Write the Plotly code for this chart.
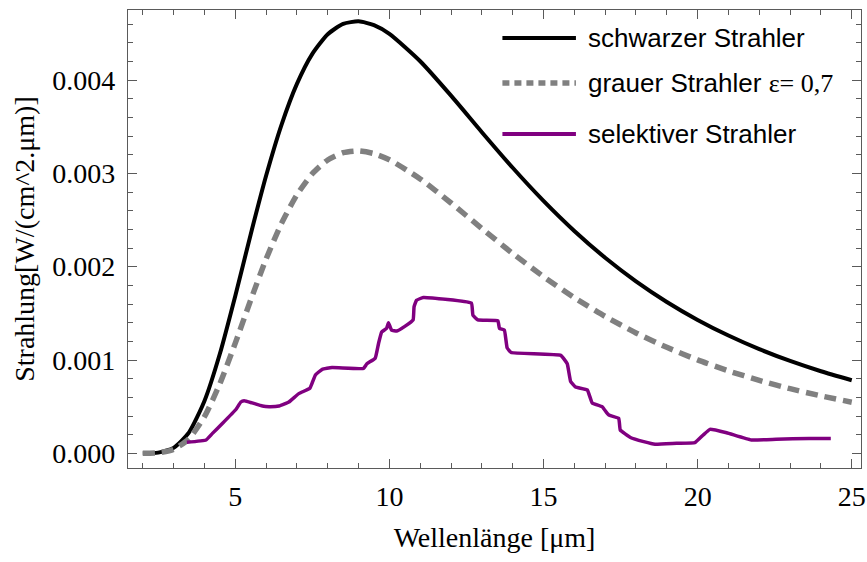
import plotly.graph_objects as go

# Wavelength grid (µm) and spectral exitance (W/(cm^2·µm))
wavelength = [2, 2.5, 3, 3.5, 4, 4.5, 5, 5.5, 6, 6.5, 7, 7.5, 8, 8.5, 9, 9.5, 10,
              11, 12, 13, 14, 15, 16, 17, 18, 19, 20, 21, 22, 23, 24, 25]

black_body = [0.0000003, 0.0000076, 0.0000587, 0.0002245, 0.0005606, 0.0010665,
              0.0016864, 0.0023458, 0.0029733, 0.0035195, 0.0039580, 0.0042800,
              0.0044904, 0.0046015, 0.0046284, 0.0045876, 0.0044940, 0.0042009,
              0.0038320, 0.0034410, 0.0030596, 0.0027046, 0.0023825, 0.0020957,
              0.0018431, 0.0016223, 0.0014295, 0.0012621, 0.0011164, 0.0009896,
              0.0008794, 0.0007832]

grey_body = [0.0000002, 0.0000053, 0.0000411, 0.0001572, 0.0003924, 0.0007466,
             0.0011805, 0.0016421, 0.0020813, 0.0024637, 0.0027706, 0.0029960,
             0.0031433, 0.0032211, 0.0032399, 0.0032113, 0.0031458, 0.0029406,
             0.0026824, 0.0024087, 0.0021417, 0.0018932, 0.0016678, 0.0014670,
             0.0012902, 0.0011356, 0.0010007, 0.0008835, 0.0007815, 0.0006927,
             0.0006156, 0.0005482]

selective_x = [3.43, 4.05, 4.26, 4.58, 5.02, 5.18, 5.29, 5.55, 5.88, 6.1, 6.42, 6.74,
               7.06, 7.42, 7.49, 7.6, 7.82, 8.14, 9.16, 9.27, 9.54, 9.65, 9.75, 9.91,
               9.97, 10.07, 10.24, 10.5, 10.77, 10.8, 10.88, 11.1, 12.66, 12.71, 12.87,
               13.52, 13.57, 13.73, 13.82, 13.95, 15.56, 15.77, 15.88, 16.04, 16.42,
               16.58, 16.9, 17.06, 17.12, 17.44, 17.49, 17.82, 18.25, 18.62, 19.32,
               19.91, 20.18, 20.4, 20.94, 21.74, 22.55, 23.62, 24.32]
selective_y = [0.000118, 0.000143, 0.000214, 0.00032, 0.00047, 0.00055, 0.000564,
               0.00054, 0.000507, 0.0005, 0.000507, 0.00055, 0.00064, 0.000697,
               0.00075, 0.00084, 0.0009, 0.00092, 0.00091, 0.00096, 0.00102, 0.00118,
               0.0013, 0.00134, 0.0014, 0.00132, 0.00131, 0.00136, 0.00143, 0.00157,
               0.00164, 0.00167, 0.00161, 0.00148, 0.00143, 0.00142, 0.00134, 0.00132,
               0.00113, 0.00108, 0.00105, 0.00096, 0.00077, 0.00071, 0.00068, 0.00054,
               0.0005, 0.00043, 0.00041, 0.000375, 0.00025, 0.00017, 0.000125,
               0.0000965, 0.000107, 0.000114, 0.000196, 0.000257, 0.00022, 0.000143,
               0.00015, 0.00016, 0.00016]

x_ticks = [5, 10, 15, 20, 25]
y_ticks = [0.0, 0.001, 0.002, 0.003, 0.004]
y_tick_text = ["0.000", "0.001", "0.002", "0.003", "0.004"]

legend_labels = [
    "schwarzer Strahler",
    "grauer Strahler <span style='font-family:\"Liberation Serif\", serif'>ε= 0,7</span>",
    "selektiver Strahler",
]

BLACK = "#000000"
GREY = "#808080"
PURPLE = "#800080"
FRAME = "#5a5a5a"
SERIF = "Liberation Serif, Times New Roman, serif"
SANS = "Liberation Sans, Arial, sans-serif"

fig = go.Figure()
fig.add_trace(go.Scatter(x=wavelength, y=black_body, mode="lines",
                         line=dict(color=BLACK, width=4, shape="spline", smoothing=0.6)))
fig.add_trace(go.Scatter(x=wavelength, y=grey_body, mode="lines",
                         line=dict(color=GREY, width=5.5, dash="12px,7px",
                                   shape="spline", smoothing=0.6)))
fig.add_trace(go.Scatter(x=selective_x, y=selective_y, mode="lines",
                         line=dict(color=PURPLE, width=3.5, shape="spline", smoothing=0.3)))

axis_common = dict(
    showline=True, linecolor=FRAME, linewidth=1.3, mirror="allticks",
    ticks="inside", ticklen=9, tickwidth=1.2, tickcolor=FRAME,
    showgrid=False, zeroline=False, ticklabeloverflow="allow",
    tickfont=dict(family=SERIF, size=28, color="black"),
)

fig.update_xaxes(
    range=[1.52, 25.3], tickvals=x_ticks, ticklabelstandoff=3,
    minor=dict(dtick=1, tick0=0, ticks="inside", ticklen=5, tickcolor=FRAME,
               tickwidth=1.2, showgrid=False),
    title=dict(text="Wellenlänge [μm]", font=dict(family=SERIF, size=28, color="black"),
               standoff=16),
    **axis_common,
)
fig.update_yaxes(
    range=[-0.000157, 0.00475], tickvals=y_ticks, ticktext=y_tick_text,
    ticklabelstandoff=6,
    minor=dict(dtick=0.0002, tick0=0, ticks="inside", ticklen=5, tickcolor=FRAME,
               tickwidth=1.2, showgrid=False),
    title=dict(text="Strahlung[W/(cm^2.μm)]", font=dict(family=SERIF, size=28, color="black"),
               standoff=9),
    **axis_common,
)

# Legend: key lines and labels placed in the upper right of the frame
legend_rows = [0.9389, 0.8406, 0.7293]
legend_styles = [dict(color=BLACK, width=4), dict(color=GREY, width=5.5, dash="7px,5px"),
                 dict(color=PURPLE, width=4)]
for row_y, style, label in zip(legend_rows, legend_styles, legend_labels):
    fig.add_shape(type="line", xref="paper", yref="paper", x0=0.5108, x1=0.6111,
                  y0=row_y, y1=row_y, line=style)
    fig.add_annotation(xref="paper", yref="paper", x=0.6247, y=row_y, text=label,
                       showarrow=False, xanchor="left", yanchor="middle",
                       font=dict(family=SANS, size=26, color="black"))

fig.update_layout(
    width=867, height=562,
    margin=dict(l=128, r=1, t=10, b=94),
    paper_bgcolor="white", plot_bgcolor="white",
    showlegend=False,
)

fig.write_html("out.html")
